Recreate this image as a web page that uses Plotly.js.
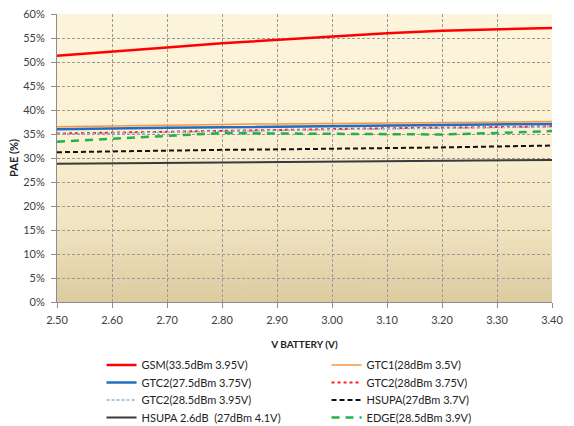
<!DOCTYPE html>
<html>
<head>
<meta charset="utf-8">
<script src="https://cdn.plot.ly/plotly-3.0.1.min.js"></script>
<style>
  html, body { margin: 0; padding: 0; background: #ffffff; }
  #chart { width: 574px; height: 426px; }
</style>
</head>
<body>
<div id="chart"></div>
<script>
// Battery voltage sweep (V)
const vBattery = [2.50, 2.60, 2.70, 2.80, 2.90, 3.00, 3.10, 3.20, 3.30, 3.40];

// PAE (%) per operating mode
const gsm335        = [51.3, 52.1, 53.0, 53.9, 54.6, 55.3, 56.0, 56.5, 56.8, 57.1];
const gtc1_28       = [36.5, 36.7, 36.9, 37.0, 37.1, 37.2, 37.3, 37.4, 37.5, 37.6];
const gtc2_275      = [36.0, 36.2, 36.3, 36.4, 36.5, 36.6, 36.8, 36.9, 37.0, 37.1];
const gtc2_28       = [35.1, 35.3, 35.5, 35.6, 35.8, 36.0, 36.2, 36.3, 36.5, 36.6];
const gtc2_285      = [35.0, 35.2, 35.4, 35.5, 35.7, 35.9, 36.1, 36.2, 36.4, 36.5];
const hsupa27       = [31.2, 31.4, 31.5, 31.7, 31.8, 31.9, 32.0, 32.2, 32.4, 32.6];
const hsupa26dB     = [28.8, 28.9, 29.0, 29.1, 29.2, 29.3, 29.4, 29.5, 29.55, 29.6];
const edge285       = [33.4, 34.0, 34.6, 35.2, 35.1, 35.0, 34.85, 34.9, 35.2, 35.6];

const seriesNames = [
  'GSM(33.5dBm 3.95V)',
  'GTC1(28dBm 3.5V)',
  'GTC2(27.5dBm 3.75V)',
  'GTC2(28dBm 3.75V)',
  'GTC2(28.5dBm 3.95V)',
  'HSUPA(27dBm 3.7V)',
  'HSUPA 2.6dB  (27dBm 4.1V)',
  'EDGE(28.5dBm 3.9V)'
];

const xTickVals = [2.5, 2.6, 2.7, 2.8, 2.9, 3.0, 3.1, 3.2, 3.3, 3.4];
const xTickText = ['2.50', '2.60', '2.70', '2.80', '2.90', '3.00', '3.10', '3.20', '3.30', '3.40'];
const yTickVals = [0, 5, 10, 15, 20, 25, 30, 35, 40, 45, 50, 55, 60];
const yTickText = ['0%', '5%', '10%', '15%', '20%', '25%', '30%', '35%', '40%', '45%', '50%', '55%', '60%'];

// Cream-to-tan plot background, painted on a canvas
function plotBackground() {
  const c = document.createElement('canvas');
  c.width = 4; c.height = 300;
  const g = c.getContext('2d');
  const grad = g.createLinearGradient(0, 0, 0, 300);
  grad.addColorStop(0.0, '#fdf5dc');
  grad.addColorStop(0.45, '#fbf0d3');
  grad.addColorStop(0.75, '#f0e3c0');
  grad.addColorStop(1.0, '#dccb9f');
  g.fillStyle = grad;
  g.fillRect(0, 0, 4, 300);
  return c.toDataURL('image/png');
}

// Each legend row holds two entries: left column, right column
function line(y, name, color, width, dash, legendId) {
  return {
    x: vBattery, y: y, name: name, type: 'scatter', mode: 'lines',
    legend: legendId,
    line: { color: color, width: width, dash: dash || 'solid' }
  };
}

const traces = [
  line(gsm335,    seriesNames[0], '#ff0000', 2.5, 'solid',   'legend'),
  line(gtc1_28,   seriesNames[1], '#f79646', 1.5, 'solid',   'legend'),
  line(gtc2_275,  seriesNames[2], '#1f6fc5', 2.5, 'solid',   'legend2'),
  line(gtc2_28,   seriesNames[3], '#ff2020', 2,   'dot',     'legend2'),
  line(gtc2_285,  seriesNames[4], '#8db4e2', 1.5, '3px,2px', 'legend3'),
  line(hsupa27,   seriesNames[5], '#111111', 2,   '5px,3px', 'legend3'),
  line(hsupa26dB, seriesNames[6], '#3a3a3a', 2,   'solid',   'legend4'),
  line(edge285,   seriesNames[7], '#22b14c', 2.5, '8px,6px', 'legend4')
];

const fontFamily = 'Lato, "Open Sans", sans-serif';
const tickFont = { family: fontFamily, size: 11, color: '#404040' };

function legendRow(yTop) {
  return {
    orientation: 'h', x: 0.09, xanchor: 'left',
    yref: 'container', y: yTop, yanchor: 'top',
    entrywidth: 180, entrywidthmode: 'pixels',
    font: { family: fontFamily, size: 11, color: '#222222' },
    bgcolor: 'rgba(0,0,0,0)', traceorder: 'normal', itemwidth: 30
  };
}

const layout = {
  width: 574, height: 426,
  margin: { l: 57, r: 22, t: 14, b: 124 },
  paper_bgcolor: '#ffffff',
  plot_bgcolor: '#fcf3d8',
  font: { family: fontFamily, size: 11, color: '#222222' },
  images: [{
    source: plotBackground(), xref: 'paper', yref: 'paper',
    x: 0, y: 1, sizex: 1, sizey: 1, sizing: 'stretch', layer: 'below'
  }],
  xaxis: {
    range: [2.5, 3.4], tickmode: 'array', tickvals: xTickVals, ticktext: xTickText,
    showgrid: true, gridcolor: '#9a9a9a', griddash: '3px,2px', gridwidth: 1,
    showline: true, linecolor: '#8c8c8c', linewidth: 1,
    ticks: 'outside', ticklen: 5, tickcolor: '#8c8c8c', ticklabelstandoff: 3,
    tickfont: tickFont, zeroline: false, automargin: false,
    title: { text: 'V BATTERY (V)', font: { family: fontFamily, size: 10, color: '#222222', weight: 'bold' }, standoff: 19 }
  },
  yaxis: {
    range: [0, 60], tickmode: 'array', tickvals: yTickVals, ticktext: yTickText,
    showgrid: true, gridcolor: '#9a9a9a', griddash: '3px,2px', gridwidth: 1,
    showline: true, linecolor: '#8c8c8c', linewidth: 1,
    ticks: 'outside', ticklen: 5, tickcolor: '#8c8c8c', ticklabelstandoff: 4,
    tickfont: tickFont, zeroline: false, automargin: false,
    title: { text: 'PAE (%)', font: { family: fontFamily, size: 11, color: '#222222', weight: 'bold' }, standoff: 2 }
  },
  showlegend: true,
  legend:  legendRow(0.1775),
  legend2: legendRow(0.1364),
  legend3: legendRow(0.0953),
  legend4: legendRow(0.0542)
};

Plotly.newPlot('chart', traces, layout, { staticPlot: true, displayModeBar: false });
</script>
</body>
</html>
